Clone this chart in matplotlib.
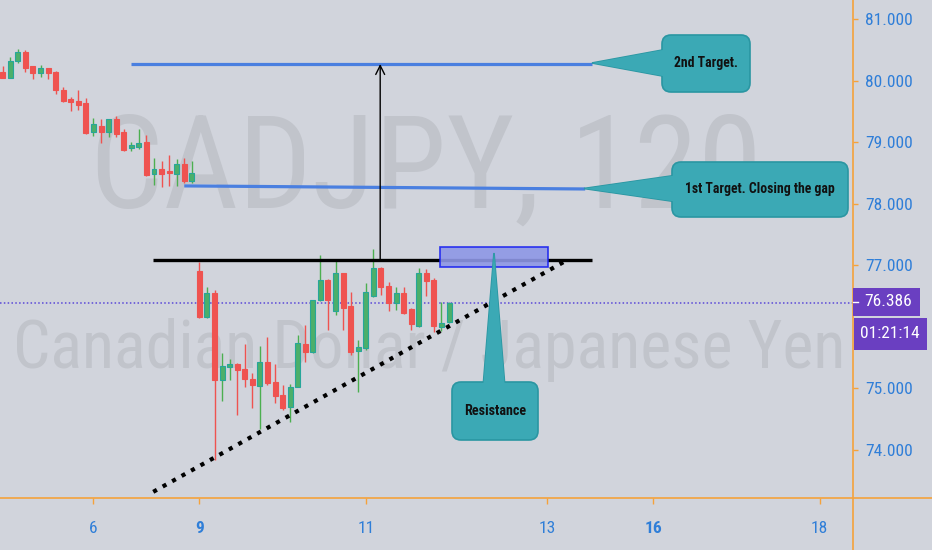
import matplotlib
matplotlib.use("Agg")
import matplotlib.pyplot as plt
from matplotlib.patches import FancyBboxPatch, Polygon, Rectangle
from matplotlib.lines import Line2D

# ---- colours ----
BG = "#d1d4dc"; WATER = "#c1c4cb"; ORANGE = "#f5a23c"; AXBLUE = "#2f7ed8"
UP = "#4caf6a"; UP_EDGE = "#26a69a"; DOWN = "#ef5350"
TARGET = "#4a7fe0"; TEAL = "#3ba9b5"; TEAL_EDGE = "#2a96a2"; PURPLE = "#6a3fc1"
FONT = ["Liberation Sans Narrow", "DejaVu Sans Condensed", "Roboto Condensed", "Roboto", "DejaVu Sans"]
plt.rcParams["font.family"] = FONT

# ---- CADJPY 2h candles ----
opens = [80.14, 80.05, 80.32, 80.47, 80.23, 80.12, 80.20, 80.14, 79.85, 79.70,
         79.67, 79.64, 79.16, 79.27, 79.16, 79.37, 79.16, 78.90, 78.92, 79.00,
         78.48, 78.56, 78.53, 78.48, 78.65, 78.37,
         76.90, 76.16, 76.55, 75.14, 75.35, 75.40, 75.31, 75.15, 75.04, 75.43,
         75.10, 74.90, 74.70, 75.03, 75.72, 75.59, 76.43, 76.76, 76.26, 76.87,
         76.34, 75.60, 75.65, 76.50, 76.96, 76.67, 76.38, 76.55, 76.29, 76.02,
         76.88, 76.76, 75.99, 76.08]
highs = [80.23, 80.38, 80.51, 80.50, 80.24, 80.26, 80.21, 80.15, 79.90, 79.74,
         79.85, 79.71, 79.40, 79.37, 79.38, 79.42, 79.21, 79.00, 79.21, 79.12,
         78.75, 78.70, 78.80, 78.73, 78.74, 78.70,
         77.06, 76.65, 76.60, 75.58, 75.47, 75.41, 75.72, 75.25, 75.69, 75.84,
         75.40, 75.06, 75.07, 75.87, 76.03, 76.44, 77.17, 76.77, 77.11, 76.88,
         76.57, 75.79, 76.72, 77.26, 76.98, 76.73, 76.65, 76.65, 76.30, 76.95,
         76.94, 76.79, 76.41, 76.40]
lows = [80.04, 80.04, 80.29, 80.14, 80.03, 80.06, 80.03, 79.79, 79.65, 79.51,
        79.53, 79.14, 79.10, 78.99, 79.08, 79.08, 78.86, 78.86, 78.89, 78.45,
        78.30, 78.28, 78.29, 78.29, 78.34, 78.34,
        76.15, 76.15, 73.84, 74.80, 75.14, 74.57, 75.03, 74.69, 74.34, 75.06,
        74.76, 74.65, 74.46, 75.02, 75.43, 75.58, 76.42, 75.95, 76.20, 75.95,
        75.55, 74.95, 75.62, 76.49, 76.52, 76.25, 76.27, 76.21, 75.95, 76.00,
        76.50, 75.92, 75.93, 76.07]
closes = [80.05, 80.32, 80.47, 80.21, 80.12, 80.20, 80.12, 79.85, 79.67, 79.65,
          79.61, 79.15, 79.30, 79.16, 79.37, 79.13, 78.88, 78.95, 78.98, 78.46,
          78.56, 78.48, 78.50, 78.65, 78.37, 78.50,
          76.16, 76.55, 75.14, 75.37, 75.40, 75.30, 75.15, 75.05, 75.43, 75.09,
          74.88, 74.69, 75.02, 75.74, 75.59, 76.43, 76.76, 76.43, 76.87, 76.31,
          75.59, 75.68, 76.56, 76.96, 76.64, 76.38, 76.55, 76.22, 76.04, 76.88,
          76.75, 76.02, 76.07, 76.386]
last_price = 76.386
countdown = "01:21:14"

day_ticks = [12, 26, 48, 72, 86, 108]
day_labels = ["6", "9", "11", "13", "16", "18"]
bold_days = ["9", "16"]
price_ticks = [74, 75, 77, 78, 79, 80, 81]   # 76.000 sits under the last-price tag

# drawings: (bar index, price)
target2 = (16.96, 77.9, 80.27)
target1 = (24.0, 77.0, 78.29, 78.24)
resistance = (19.9, 77.9, 77.09)
zone = (57.8, 72.1, 76.97, 77.30)
trend = ((19.9, 73.32), (74.1, 77.05))
arrow_x = 49.9

W, H = 932, 550
fig = plt.figure(figsize=(W / 100, H / 100), dpi=100, facecolor=BG)


def fit_width(t, width):
    """rescale a text so its rendered width is `width` pixels"""
    fig.canvas.draw()
    w = t.get_window_extent(fig.canvas.get_renderer()).width
    t.set_fontsize(t.get_fontsize() * width / w)


# background layer (watermark) in pixel coords
bg = fig.add_axes([0, 0, 1, 1], zorder=0)
bg.set_xlim(0, W); bg.set_ylim(H, 0); bg.axis("off")
wm1 = bg.text(426, 172, "CADJPY, 120", fontsize=90, color=WATER, ha="center", va="center")
wm2 = bg.text(429, 350, "Canadian Dollar / Japanese Yen", fontsize=50, color=WATER,
              ha="center", va="center")

# price chart
ax = fig.add_axes([0, 52 / H, 853 / W, 498 / H], zorder=1)
ax.patch.set_alpha(0)
for s in ax.spines.values():
    s.set_visible(False)
ax.set_xlim(-0.357, 112.4)
ax.set_ylim(73.22, 81.31)

idx = list(range(len(opens)))
up = [c >= o for o, c in zip(opens, closes)]
wick_cols = ["#4caf50" if u else DOWN for u in up]
ax.vlines(idx, lows, highs, colors=wick_cols, lw=1, zorder=2)
ax.bar(idx, [abs(c - o) for o, c in zip(opens, closes)],
       bottom=[min(o, c) for o, c in zip(opens, closes)], width=0.66,
       color=[UP if u else DOWN for u in up],
       edgecolor=[UP_EDGE if u else DOWN for u in up], lw=0.8, zorder=3)

ax.axhline(last_price, color="#5a48d8", lw=1.1, ls=(0, (1, 1.5)), zorder=1)

ax.plot(target2[:2], [target2[2]] * 2, color=TARGET, lw=2.3, zorder=4, solid_capstyle="butt")
ax.plot(target1[:2], target1[2:], color=TARGET, lw=2.3, zorder=4, solid_capstyle="butt")
ax.plot(resistance[:2], [resistance[2]] * 2, color="black", lw=2.4, zorder=4,
        solid_capstyle="butt")
ax.add_patch(Rectangle((zone[0], zone[2]), zone[1] - zone[0], zone[3] - zone[2],
                       fc="#8e97e6", ec="#1a22f0", lw=1.2, alpha=0.9, zorder=5))
ax.plot([trend[0][0], trend[1][0]], [trend[0][1], trend[1][1]], color="black",
        lw=3, ls=(0, (1, 1.6)), zorder=5)
ax.annotate("", xy=(arrow_x, target2[2]), xytext=(arrow_x, resistance[2]),
            arrowprops=dict(arrowstyle="->", color="black", lw=1, mutation_scale=16,
                            shrinkA=0, shrinkB=0), zorder=4)

ax.yaxis.tick_right()
ax.set_yticks(price_ticks)
ax.set_yticklabels([f"{v:.3f}" for v in price_ticks])
ax.tick_params(axis="y", length=3.6, width=1, color=ORANGE, labelcolor=AXBLUE,
               pad=5, labelsize=12.5)
ax.set_xticks(day_ticks)
ax.set_xticklabels(day_labels)
for t in ax.get_xticklabels():
    if t.get_text() in bold_days:
        t.set_fontweight("bold")
ax.tick_params(axis="x", length=4.3, width=1, color=ORANGE, labelcolor=AXBLUE,
               pad=12, labelsize=12.5)

fig.add_artist(Line2D([0, 1], [52 / H, 52 / H], transform=fig.transFigure,
                      color=ORANGE, lw=1.2))
fig.add_artist(Line2D([853 / W, 853 / W], [0, 1], transform=fig.transFigure,
                      color=ORANGE, lw=1.2))

# overlay: callouts and price labels in pixel coords
ov = fig.add_axes([0, 0, 1, 1], zorder=2)
ov.set_xlim(0, W); ov.set_ylim(H, 0); ov.axis("off")


def callout(box, tip, base, text, width):
    x0, y0, x1, y1 = box
    ov.add_patch(Polygon([tip, base[0], base[1]], closed=True, fc=TEAL, ec=TEAL_EDGE, lw=1.2))
    ov.add_patch(FancyBboxPatch((x0, y0), x1 - x0, y1 - y0,
                                boxstyle="round,pad=0,rounding_size=9",
                                fc=TEAL, ec=TEAL_EDGE, lw=1.2))
    # hide the box outline where the pointer joins it
    ov.add_patch(Polygon([tip, base[0], base[1]], closed=True, fc=TEAL, ec="none"))
    t = ov.text((x0 + x1) / 2, (y0 + y1) / 2, text, fontsize=10, fontweight="bold",
                color="#111111", ha="center", va="center")
    return t, width


labels = [
    callout((662, 35, 750, 92), (592, 63), [(668, 49), (668, 77)], "2nd Target.", 64),
    callout((672, 162, 848, 217), (584, 188.5), [(678, 175), (678, 202)],
            "1st Target. Closing the gap", 150),
    callout((452, 382, 538, 440), (494, 253), [(483, 388), (505, 388)], "Resistance", 62),
]

ov.add_patch(Rectangle((853, 288), 67, 28, fc=PURPLE, ec="none"))
ov.text(864, 302, f"{last_price:.3f}", fontsize=12.5, color="white", ha="left", va="center")
ov.plot([853, 858], [302, 302], color="white", lw=1)
ov.add_patch(Rectangle((854, 318), 73, 32, fc=PURPLE, ec="none"))
ov.text(890, 334, countdown, fontsize=12.5, color="white", ha="center", va="center")

fit_width(wm1, 672)
fit_width(wm2, 834)
for t, w in labels:
    fit_width(t, w)

fig.savefig("out.png", dpi=100, facecolor=BG)
